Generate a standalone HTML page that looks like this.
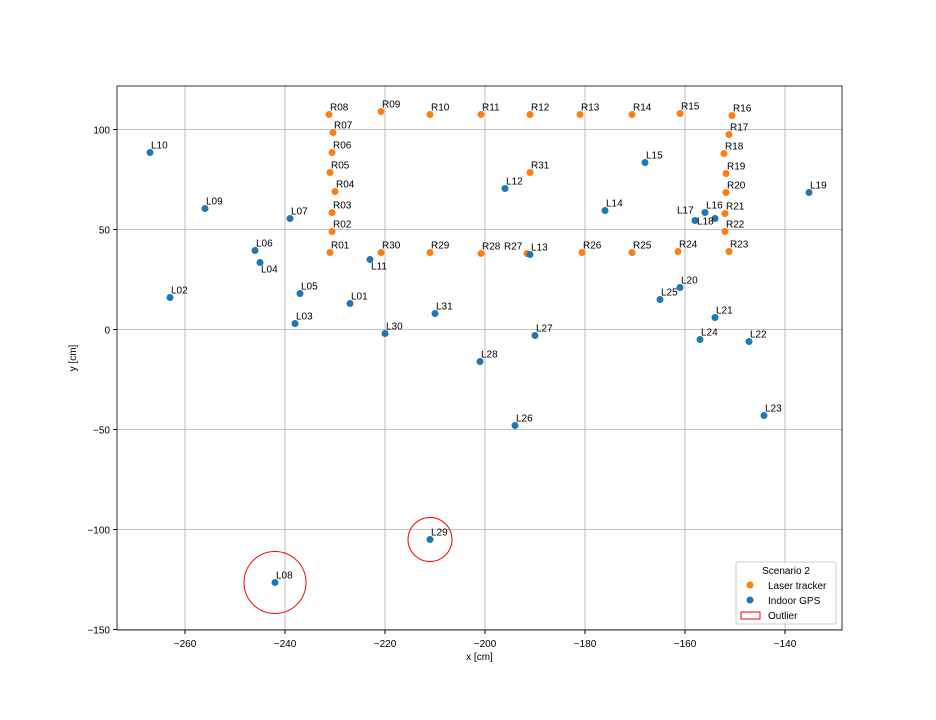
<!DOCTYPE html>
<html><head><meta charset="utf-8"><style>
body{margin:0;background:#fff}
svg{display:block;font-family:"Liberation Sans","DejaVu Sans",sans-serif}
</style></head><body>
<svg id="c" width="936" height="720"></svg>
<script>
const laserLabels=["R01","R02","R03","R04","R05","R06","R07","R08","R09","R10","R11","R12","R13","R14","R15","R16","R17","R18","R19","R20","R21","R22","R23","R24","R25","R26","R27","R28","R29","R30","R31"];
const laserX=[-231,-230.6,-230.6,-230,-231,-230.6,-230.4,-231.2,-220.8,-211,-200.8,-191,-181,-170.6,-161,-150.6,-151.2,-152.2,-151.8,-151.8,-152,-152,-151.2,-161.4,-170.6,-180.6,-191.6,-200.8,-211,-220.8,-191];
const laserY=[38.5,49,58.5,69,78.5,88.5,98.5,107.5,109,107.5,107.5,107.5,107.5,107.5,108,107,97.5,88,78,68.5,58,49,39,39,38.5,38.5,38,38,38.5,38.5,78.5];
const gpsLabels=["L01","L02","L03","L04","L05","L06","L07","L08","L09","L10","L11","L12","L13","L14","L15","L16","L17","L18","L19","L20","L21","L22","L23","L24","L25","L26","L27","L28","L29","L30","L31"];
const gpsX=[-227,-263,-238,-245,-237,-246,-239,-242,-256,-267,-223,-196,-191,-176,-168,-156,-158,-154,-135.2,-161,-154,-147.2,-144.2,-157,-165,-194,-190,-201,-211,-220,-210];
const gpsY=[13,16,3,33.5,18,39.5,55.5,-126.5,60.5,88.5,35,70.5,37.5,59.5,83.5,58.5,54.5,55.5,68.5,21,6,-6,-43,-5,15,-48,-3,-16,-105,-2,8];
const outliers=["L08","L29"];
const xTicks=[-260,-240,-220,-200,-180,-160,-140];
const yTicks=[-150,-100,-50,0,50,100];
const L=117,R=842,T=86,B=630;
const X=v=>485+(v+200)*5, Y=v=>329.5-v*2;
const NS="http://www.w3.org/2000/svg",svg=document.getElementById('c');
function el(t,a,txt){const e=document.createElementNS(NS,t);for(const k in a)e.setAttribute(k,a[k]);if(txt!=null)e.textContent=txt;svg.appendChild(e);return e;}
xTicks.forEach(v=>{
 const g=el('line',{x1:X(v),x2:X(v),y1:T,y2:B,stroke:'#b0b0b0','stroke-width':0.8});
 
 
 el('line',{x1:X(v),x2:X(v),y1:B,y2:B+4,stroke:'#000'});
 const t=el('text',{x:X(v),y:B+17,'font-size':10,'text-anchor':'middle'},'\u2212'+Math.abs(v));
 
 
});
yTicks.forEach(v=>{
 const g=el('line',{x1:L,x2:R,y1:Y(v),y2:Y(v),stroke:'#b0b0b0','stroke-width':0.8});
 
 
 el('line',{x1:L-4,x2:L,y1:Y(v),y2:Y(v),stroke:'#000'});
 const t=el('text',{x:L-7,y:Y(v)+4,'font-size':10,'text-anchor':'end'},v<0?'\u2212'+Math.abs(v):String(v));
 
 
});
const fr=el('rect',{x:L,y:T,width:R-L,height:B-T,fill:'none',stroke:'#000','stroke-width':0.8});


const off={L04:[0,14],L11:[0,14],L17:[-19,-3],L18:[-19,10],R27:[-24,0]};
function pts(xs,ys,labs,col,nm){
 xs.forEach((v,i)=>{
  const c=el('circle',{cx:X(v),cy:Y(ys[i]),r:3.5,fill:col});
  
  
  const o=off[labs[i]]||[0,0];
  const t=el('text',{x:X(v)+1+o[0],y:Y(ys[i])-4+o[1],'font-size':10},labs[i]);
  
  
 });
}
pts(laserX,laserY,laserLabels,'#ff7f0e','laser');
pts(gpsX,gpsY,gpsLabels,'#1f77b4','gps');
outliers.forEach(n=>{const i=gpsLabels.indexOf(n);
 const c=el('circle',{cx:X(gpsX[i]),cy:Y(gpsY[i]),r:n==='L08'?31:22,fill:'none',stroke:'#ff0000','stroke-width':1});
 
 
});
let t=el('text',{x:(L+R)/2,y:660,'font-size':10,'text-anchor':'middle'},'x [cm]');


t=el('text',{x:76,y:358,'font-size':10,'text-anchor':'middle',transform:'rotate(-90 76 358)'},'y [cm]');


const lg=el('rect',{x:736,y:562,width:100,height:62,rx:2,fill:'#fff','fill-opacity':0.8,stroke:'#ccc'});


t=el('text',{x:786,y:574,'font-size':10,'text-anchor':'middle'},'Scenario 2');


let m=el('circle',{cx:750,cy:585,r:3.5,fill:'#ff7f0e'});


t=el('text',{x:768,y:589,'font-size':10},'Laser tracker');


m=el('circle',{cx:750,cy:600,r:3.5,fill:'#1f77b4'});


t=el('text',{x:768,y:604,'font-size':10},'Indoor GPS');


m=el('rect',{x:741,y:612,width:19,height:7,fill:'none',stroke:'#ff0000'});


t=el('text',{x:768,y:619,'font-size':10},'Outlier');


</script>
</body></html>
